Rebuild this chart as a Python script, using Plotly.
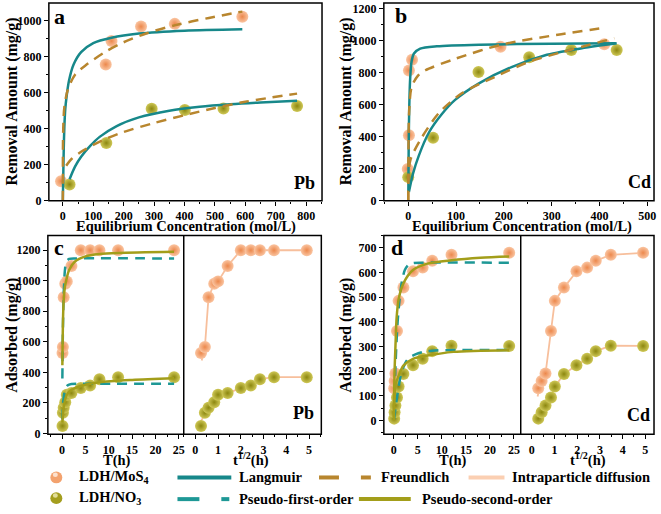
import plotly.graph_objects as go

W, H = 661, 514

# ---------------- data: panel a (Pb isotherm) ----------------
a_mos4_c = [-6, 141, 160, 257, 368, 590]
a_mos4_q = [109, 757, 887, 967, 982, 1022]
a_no3_c = [22, 143, 292, 401, 528, 770]
a_no3_q = [91, 321, 511, 504, 513, 526]
a_lang_mos4_c = [0, 1.5, 3, 5, 8, 12, 20, 35, 60, 100, 160, 250, 400, 590]
a_lang_mos4_q = [0, 150, 290, 410, 510, 575, 665, 755, 825, 875, 905, 928, 944, 952]
a_freu_mos4_c = [0, 0.5, 2, 5, 16, 40, 77, 143, 200, 276, 370, 480, 590]
a_freu_mos4_q = [0, 330, 440, 520, 615, 700, 755, 830, 880, 930, 975, 1015, 1050]
a_lang_no3_c = [22, 40, 60, 90, 121, 177, 250, 350, 450, 550, 650, 770]
a_lang_no3_q = [120, 190, 245, 305, 355, 415, 463, 500, 522, 536, 546, 555]
a_freu_no3_c = [11, 30, 60, 100, 143, 200, 300, 400, 500, 600, 770]
a_freu_no3_q = [195, 235, 272, 310, 345, 382, 432, 475, 515, 550, 595]

# ---------------- data: panel b (Cd isotherm) ----------------
b_mos4_c = [-1, 1.5, 1.5, 8, 193, 410]
b_mos4_q = [199, 410, 814, 880, 962, 978]
b_no3_c = [0, 52, 147, 253, 341, 436]
b_no3_q = [148, 394, 804, 896, 941, 941]
b_lang_mos4_c = [0.3, 1, 2, 4, 7, 12, 25, 60, 150, 300, 434]
b_lang_mos4_q = [60, 350, 560, 760, 870, 920, 950, 965, 975, 980, 983]
b_freu_mos4_c = [0, 0.5, 2, 7, 20, 36, 98, 195, 320, 410]
b_freu_mos4_q = [0, 330, 560, 710, 780, 815, 886, 975, 1040, 1080]
b_lang_no3_c = [1.4, 10, 22, 43, 70, 98, 147, 216, 285, 355, 436]
b_lang_no3_q = [55, 170, 281, 425, 540, 630, 732, 835, 907, 948, 983]
b_freu_no3_c = [0, 1, 5, 26, 64, 112, 181, 251, 320, 431]
b_freu_no3_q = [0, 170, 260, 384, 548, 671, 773, 866, 927, 1015]

# ---------------- data: panel c (Pb kinetics) ----------------
c_t = [0.083, 0.167, 0.333, 0.667, 1, 2, 4, 6, 8, 12, 24]
c_sqrt_t = [0.25, 0.42, 0.58, 0.83, 1.0, 1.42, 2.0, 2.44, 2.84, 3.46, 4.9]
c_mos4_q = [527, 566, 892, 981, 996, 1097, 1200, 1200, 1200, 1200, 1200]
c_no3_q = [49, 135, 168, 204, 253, 264, 297, 314, 355, 368, 368]
c_pfo_mos4_t = [0.05, 0.15, 0.3, 0.45, 0.6, 0.9, 1.5, 3, 24]
c_pfo_mos4_q = [360, 640, 880, 1000, 1070, 1125, 1143, 1146, 1146]
c_pso_mos4_t = [0.05, 0.2, 0.36, 0.6, 0.93, 1.5, 2.7, 5, 8, 12, 24]
c_pso_mos4_q = [447, 760, 886, 960, 1010, 1070, 1125, 1160, 1175, 1182, 1190]
c_pfo_no3_t = [0.05, 0.2, 0.4, 0.7, 1.2, 2, 4, 24]
c_pfo_no3_q = [90, 190, 250, 290, 315, 323, 325, 325]
c_pso_no3_t = [0.05, 0.36, 1, 2, 4.4, 8, 15, 24]
c_pso_no3_q = [71, 178, 253, 286, 314, 335, 350, 361]
c_ipd_mos4_x = [0.28, 0.42, 0.58, 0.83, 1.0, 1.42, 2.0, 2.44, 2.84, 3.46, 4.9]
c_ipd_mos4_q = [478, 566, 892, 981, 996, 1097, 1200, 1200, 1200, 1200, 1200]
c_ipd_no3_x = [0.25, 1.0, 1.42, 2.0, 2.44, 2.84, 3.46, 4.9]
c_ipd_no3_q = [82, 253, 264, 297, 314, 355, 368, 368]

# ---------------- data: panel d (Cd kinetics) ----------------
d_t = [0.083, 0.167, 0.333, 0.667, 1, 2, 4, 6, 8, 12, 24]
d_sqrt_t = [0.29, 0.44, 0.61, 0.85, 1.02, 1.42, 1.97, 2.44, 2.82, 3.48, 4.9]
d_mos4_q = [130, 160, 190, 363, 485, 539, 605, 620, 648, 672, 680]
d_no3_q = [7, 33, 60, 93, 137, 188, 224, 250, 281, 303, 302]
d_pfo_mos4_t = [0.15, 0.5, 0.8, 1.2, 1.7, 2.3, 3, 4, 6, 24]
d_pfo_mos4_q = [110, 290, 400, 490, 565, 610, 630, 638, 640, 640]
d_pso_mos4_t = [0.02, 0.15, 0.35, 0.6, 1, 2, 4, 7, 12, 18, 24]
d_pso_mos4_q = [10, 190, 303, 420, 491, 556, 610, 636, 650, 660, 665]
d_pfo_no3_t = [0.05, 0.7, 1.4, 2, 2.6, 3.5, 4.5, 6, 8, 24]
d_pfo_no3_q = [4, 97, 177, 215, 240, 258, 268, 277, 283, 286]
d_pso_no3_t = [0.02, 0.35, 1, 2, 4, 7, 12.4, 24]
d_pso_no3_q = [0, 144, 180, 222, 250, 263, 278, 285]
d_ipd_mos4_x = [0.26, 0.44, 0.61, 0.85, 1.02, 1.42, 1.97, 2.44, 2.82, 3.48, 4.9]
d_ipd_mos4_q = [97, 160, 190, 363, 485, 539, 603, 620, 648, 672, 680]
d_ipd_no3_x = [0.27, 0.44, 0.58, 0.85, 1.02, 1.42, 1.97, 2.44, 2.82, 3.48, 4.9]
d_ipd_no3_q = [2, 33, 60, 93, 137, 188, 224, 250, 281, 303, 302]

# ---------------- styles ----------------
FONT = "Liberation Serif"
TEAL = "#17888A"
TEAL_D = "#1E9896"
BROWN = "#B8862E"
PEACH = "#F7BF9C"
OLIVE = "#A39E1A"
OR_C, OR_E = "#FAC5A2", "#EC884C"
OL_C, OL_E = "#CFC857", "#8C870F"

fig = go.Figure()


def markers(x, y, xa, ya, center, edge):
    fig.add_trace(go.Scatter(
        x=x, y=y, xaxis=xa, yaxis=ya, mode="markers", showlegend=False,
        marker=dict(size=12, color=center, gradient=dict(type="radial", color=edge),
                    line=dict(width=0))))


def line(x, y, xa, ya, color, dash="solid", width=2.5, shape="spline"):
    fig.add_trace(go.Scatter(
        x=x, y=y, xaxis=xa, yaxis=ya, mode="lines", showlegend=False,
        line=dict(color=color, width=width, dash=dash, shape=shape, smoothing=0.8)))


DASH = "10px,7px"

# panel a
markers(a_mos4_c, a_mos4_q, "x", "y", OR_C, OR_E)
markers(a_no3_c, a_no3_q, "x", "y", OL_C, OL_E)
line(a_lang_mos4_c, a_lang_mos4_q, "x", "y", TEAL)
line(a_freu_mos4_c, a_freu_mos4_q, "x", "y", BROWN, DASH)
line(a_lang_no3_c, a_lang_no3_q, "x", "y", TEAL)
line(a_freu_no3_c, a_freu_no3_q, "x", "y", BROWN, DASH)

# panel b
markers(b_mos4_c, b_mos4_q, "x2", "y2", OR_C, OR_E)
markers(b_no3_c, b_no3_q, "x2", "y2", OL_C, OL_E)
line(b_lang_mos4_c, b_lang_mos4_q, "x2", "y2", TEAL)
line(b_freu_mos4_c, b_freu_mos4_q, "x2", "y2", BROWN, DASH)
line(b_lang_no3_c, b_lang_no3_q, "x2", "y2", TEAL)
line(b_freu_no3_c, b_freu_no3_q, "x2", "y2", BROWN, DASH)

# panel c left
markers(c_t, c_mos4_q, "x3", "y3", OR_C, OR_E)
markers(c_t, c_no3_q, "x3", "y3", OL_C, OL_E)
line(c_pfo_mos4_t, c_pfo_mos4_q, "x3", "y3", TEAL_D, DASH)
line(c_pso_mos4_t, c_pso_mos4_q, "x3", "y3", OLIVE)
line(c_pfo_no3_t, c_pfo_no3_q, "x3", "y3", TEAL_D, DASH)
line(c_pso_no3_t, c_pso_no3_q, "x3", "y3", OLIVE)
# panel c right
line(c_ipd_mos4_x, c_ipd_mos4_q, "x4", "y3", PEACH, width=1.8, shape="linear")
line(c_ipd_no3_x, c_ipd_no3_q, "x4", "y3", PEACH, width=1.8, shape="linear")
markers(c_sqrt_t, c_mos4_q, "x4", "y3", OR_C, OR_E)
markers(c_sqrt_t, c_no3_q, "x4", "y3", OL_C, OL_E)

# panel d left
markers(d_t, d_mos4_q, "x5", "y4", OR_C, OR_E)
markers(d_t, d_no3_q, "x5", "y4", OL_C, OL_E)
line(d_pfo_mos4_t, d_pfo_mos4_q, "x5", "y4", TEAL_D, DASH)
line(d_pso_mos4_t, d_pso_mos4_q, "x5", "y4", OLIVE)
line(d_pfo_no3_t, d_pfo_no3_q, "x5", "y4", TEAL_D, DASH)
line(d_pso_no3_t, d_pso_no3_q, "x5", "y4", OLIVE)
# panel d right
line(d_ipd_mos4_x, d_ipd_mos4_q, "x6", "y4", PEACH, width=1.8, shape="linear")
line(d_ipd_no3_x, d_ipd_no3_q, "x6", "y4", PEACH, width=1.8, shape="linear")
markers(d_sqrt_t, d_mos4_q, "x6", "y4", OR_C, OR_E)
markers(d_sqrt_t, d_no3_q, "x6", "y4", OL_C, OL_E)


def px(v):
    return v / W


def py(v):
    return 1 - v / H


TICKFONT = dict(family=FONT, size=12, color="black", weight="bold")


def axis(domain, rng, anchor, dtick, minor):
    return dict(domain=domain, range=rng, anchor=anchor, dtick=dtick, tick0=0,
                showgrid=False, zeroline=False, showline=False,
                ticks="outside", ticklen=4, tickwidth=1.2, tickcolor="black",
                tickfont=TICKFONT,
                minor=dict(ticks="outside", ticklen=2, tickwidth=1, tickcolor="black",
                           dtick=minor, tick0=0, showgrid=False))


TOP_A, BOT_A = 2, 203
TOP_C, BOT_C = 238.3, 440
XA = (49, 323)
XB = (385, 656)
XC = (48, 184.3, 322.3)
XD = (385, 522.3, 656)

fig.update_layout(
    width=W, height=H, margin=dict(l=0, r=0, t=0, b=0),
    paper_bgcolor="white", plot_bgcolor="white", showlegend=False,
    font=dict(family=FONT, color="black"),
    xaxis=axis([px(XA[0]), px(XA[1])], [-46, 852], "y", 100, 50),
    yaxis=axis([py(BOT_A), py(TOP_A)], [0, 1098], "x", 200, 100),
    xaxis2=axis([px(XB[0]), px(XB[1])], [-51, 514], "y2", 100, 50),
    yaxis2=axis([py(BOT_A), py(TOP_A)], [0, 1235], "x2", 200, 100),
    xaxis3=axis([px(XC[0]), px(XC[1])], [-3.06, 26.07], "y3", 5, 2.5),
    xaxis4=axis([px(XC[1]), px(XC[2])], [-0.51, 5.54], "y3", 1, 0.5),
    yaxis3=axis([py(BOT_C), py(TOP_C)], [-5, 1296], "x3", 200, 100),
    xaxis5=axis([px(XD[0]), px(XD[1])], [-2.07, 26.4], "y4", 5, 2.5),
    xaxis6=axis([px(XD[1]), px(XD[2])], [-0.48, 5.38], "y4", 1, 0.5),
    yaxis4=axis([py(BOT_C), py(TOP_C)], [-56, 750], "x5", 100, 50),
)

shapes = []
LW = 1.5
for x0, x1, y0, y1 in [(XA[0], XA[1], TOP_A, BOT_A), (XB[0], XB[1], TOP_A, BOT_A),
                       (XC[0], XC[2], TOP_C, BOT_C), (XD[0], XD[2], TOP_C, BOT_C)]:
    shapes.append(dict(type="rect", xref="paper", yref="paper", x0=px(x0), x1=px(x1),
                       y0=py(y1), y1=py(y0), line=dict(color="black", width=LW)))
for xm in (XC[1], XD[1]):
    shapes.append(dict(type="line", xref="paper", yref="paper", x0=px(xm), x1=px(xm),
                       y0=py(BOT_C), y1=py(TOP_C), line=dict(color="black", width=LW)))

# legend glyphs
R1, R2 = 484, 505
for cy, base, hi in [(R1, "#F3A26E", "#FCE1CE"), (R2, "#A49E1E", "#E2DE9A")]:
    shapes.append(dict(type="circle", xref="paper", yref="paper",
                       x0=px(50.5), x1=px(62.5), y0=py(cy + 6), y1=py(cy - 6),
                       fillcolor=base, line=dict(width=0)))
    shapes.append(dict(type="circle", xref="paper", yref="paper",
                       x0=px(53), x1=px(58), y0=py(cy - 0.5), y1=py(cy - 5),
                       fillcolor=hi, line=dict(width=0)))


def lseg(x0, x1, y, color, dash="solid", width=4):
    shapes.append(dict(type="line", xref="paper", yref="paper", x0=px(x0), x1=px(x1),
                       y0=py(y), y1=py(y), line=dict(color=color, width=width, dash=dash)))


lseg(178, 232, R1, TEAL)
lseg(320, 340, R1, BROWN)
lseg(362, 372, R1, BROWN)
lseg(470, 506, R1, "#FBCFB2")
lseg(178, 200, R2 + 1, TEAL_D)
lseg(222, 230, R2 + 1, TEAL_D)
lseg(360, 412, R2 + 1, OLIVE)
fig.update_layout(shapes=shapes)

ann = []


def text(x, y, s, size, xanchor="center", angle=0):
    ann.append(dict(x=px(x), y=py(y), xref="paper", yref="paper", text=s,
                    showarrow=False, xanchor=xanchor, yanchor="middle", textangle=angle,
                    font=dict(family=FONT, size=size, color="black", weight="bold")))


# axis titles
text(187, 229, "Equilibrium Concentration (mol/L)", 14.5)
text(524, 229, "Equilibrium Concentration (mol/L)", 14.5)
text(12, 102, "Removal Amount (mg/g)", 16, angle=-90)
text(347, 102, "Removal Amount (mg/g)", 16, angle=-90)
text(12, 339, "Adsorbed (mg/g)", 16, angle=-90)
text(347, 339, "Adsorbed (mg/g)", 16, angle=-90)
text(117, 467, "T(h)", 14.5)
text(454, 467, "T(h)", 14.5)
text(252, 466, "t<sup>1/2</sup>(h)", 14.5)
text(590, 466, "t<sup>1/2</sup>(h)", 14.5)
# panel letters
text(60, 16, "a", 22)
text(402, 15, "b", 22)
text(59, 250, "c", 22)
text(398, 250, "d", 22)
text(305, 185, "Pb", 18)
text(641, 184, "Cd", 18)
text(304, 419, "Pb", 18)
text(640, 421, "Cd", 18)
# legend texts
text(77, R1, "LDH/MoS<sub>4</sub>", 14.5, "left")
text(77, R2, "LDH/NO<sub>3</sub>", 14.5, "left")
text(238, R1, "Langmuir", 14.5, "left")
text(380, R1, "Freundlich", 14.5, "left")
text(512, R1, "Intraparticle diffusion", 14.5, "left")
text(238, R2 + 1, "Pseudo-first-order", 14.5, "left")
text(421, R2 + 1, "Pseudo-second-order", 14.5, "left")
fig.update_layout(annotations=ann)

fig.write_html("out.html", config={"displayModeBar": False, "responsive": False})

# remove the default page margin so the figure sits at the window's top-left corner
with open("out.html", "r", encoding="utf-8") as f:
    page = f.read()
page = page.replace("<head>", "<head><style>html,body{margin:0;padding:0;overflow:hidden;}</style>", 1)
with open("out.html", "w", encoding="utf-8") as f:
    f.write(page)
